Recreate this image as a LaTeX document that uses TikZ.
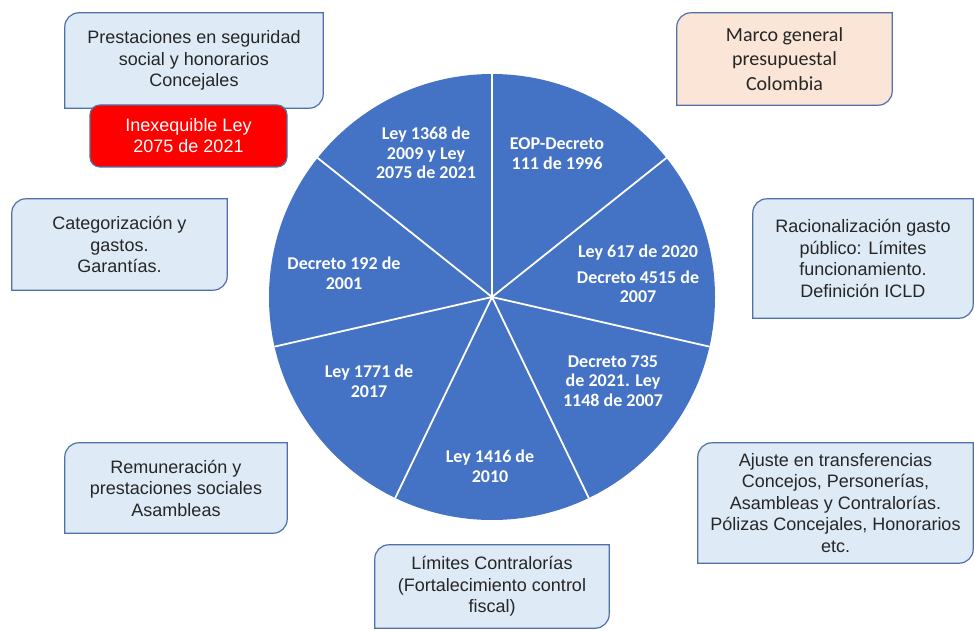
\documentclass[tikz,border=0pt]{standalone}
\usepackage{fontspec}
\setmainfont{Liberation Sans}
\newfontfamily\calibri{Carlito}
\usetikzlibrary{backgrounds}
\definecolor{pieblue}{HTML}{4472C4}
\definecolor{leafblue}{HTML}{DEEBF7}
\definecolor{leafedge}{HTML}{4F71A8}
\definecolor{peach}{HTML}{FBE5D6}
\definecolor{txtgray}{HTML}{262626}

\begin{document}
\begin{tikzpicture}[x=1pt,y=1pt,
    leaf/.style 2 args={minimum width=#1,minimum height=#2,inner sep=0pt,align=center,
      text=txtgray,font=\fontsize{18}{21.5}\selectfont},
    slice/.style={align=center,text=white,font=\calibri\bfseries\fontsize{18}{19.7}\selectfont}]
  \useasboundingbox (0,0) rectangle (974,-631);

  % pie of seven laws
  \coordinate (c) at (492,-297);
  \fill[pieblue] (c) circle[radius=223pt];
  \foreach \k in {0,...,6}
    \draw[white,line width=1.8pt] (c) -- ++(90-\k*360/7:223);

  \node[slice] (eop) at (557,-154) {EOP-Decreto\\111 de 1996};
  \node[slice] (l617) at (638,-274) {Ley 617 de 2020\\[6pt]Decreto 4515 de\\2007};
  \node[slice] (d735) at (613,-381) {Decreto 735\\de 2021. Ley\\1148 de 2007};
  \node[slice] (l1416) at (490,-466) {Ley 1416 de\\2010};
  \node[slice] (l1771) at (369,-381) {Ley 1771 de\\2017};
  \node[slice] (d192) at (344,-273) {Decreto 192 de\\2001};
  \node[slice] (l1368) at (426,-153) {Ley 1368 de\\2009 y Ley\\2075 de 2021};

  % boxes round the pie
  \node[leaf={258pt}{95pt}] (prest) at (194,-60.5) {Prestaciones en seguridad\\social y honorarios\\Concejales};
  \node[leaf={215pt}{92pt},font=\calibri\fontsize{20}{24.5}\selectfont] (marco) at (784.5,-59) {Marco general\\presupuestal\\Colombia};
  \node[leaf={215pt}{91pt}] (categ) at (119.5,-244.5) {Categorización y\\gastos.\\Garantías.};
  \node[leaf={220pt}{119pt}] (racion) at (863,-258.5) {Racionalización gasto\\público: Límites\\funcionamiento.\\Definición ICLD};
  \node[leaf={222pt}{90pt}] (remun) at (176,-488) {Remuneración y\\prestaciones sociales\\Asambleas};
  \node[leaf={234pt}{83pt}] (contra) at (492,-586.5) {Límites Contralorías\\(Fortalecimiento control\\fiscal)};
  \node[leaf={275pt}{120pt}] (ajuste) at (835.5,-503) {Ajuste en transferencias\\Concejos, Personerías,\\Asambleas y Contralorías.\\Pólizas Concejales, Honorarios\\etc.};

  \node[draw=leafedge,line width=1.2pt,fill=red,rounded corners=10pt,minimum width=197pt,minimum height=62pt,
    align=center,text=white,font=\fontsize{18}{21}\selectfont] (ineq) at (188.5,-136) {Inexequible Ley\\2075 de 2021};

  \begin{scope}[on background layer]
    \foreach \n/\f in {prest/leafblue,marco/peach,categ/leafblue,racion/leafblue,remun/leafblue,contra/leafblue,ajuste/leafblue}
      \draw[leafedge,line width=1.2pt,fill=\f] (\n.south west) -- ([yshift=-14pt]\n.north west)
        arc[start angle=180,end angle=90,radius=14pt] -- (\n.north east) -- ([yshift=14pt]\n.south east)
        arc[start angle=0,end angle=-90,radius=14pt] -- cycle;
  \end{scope}
\end{tikzpicture}
\end{document}
